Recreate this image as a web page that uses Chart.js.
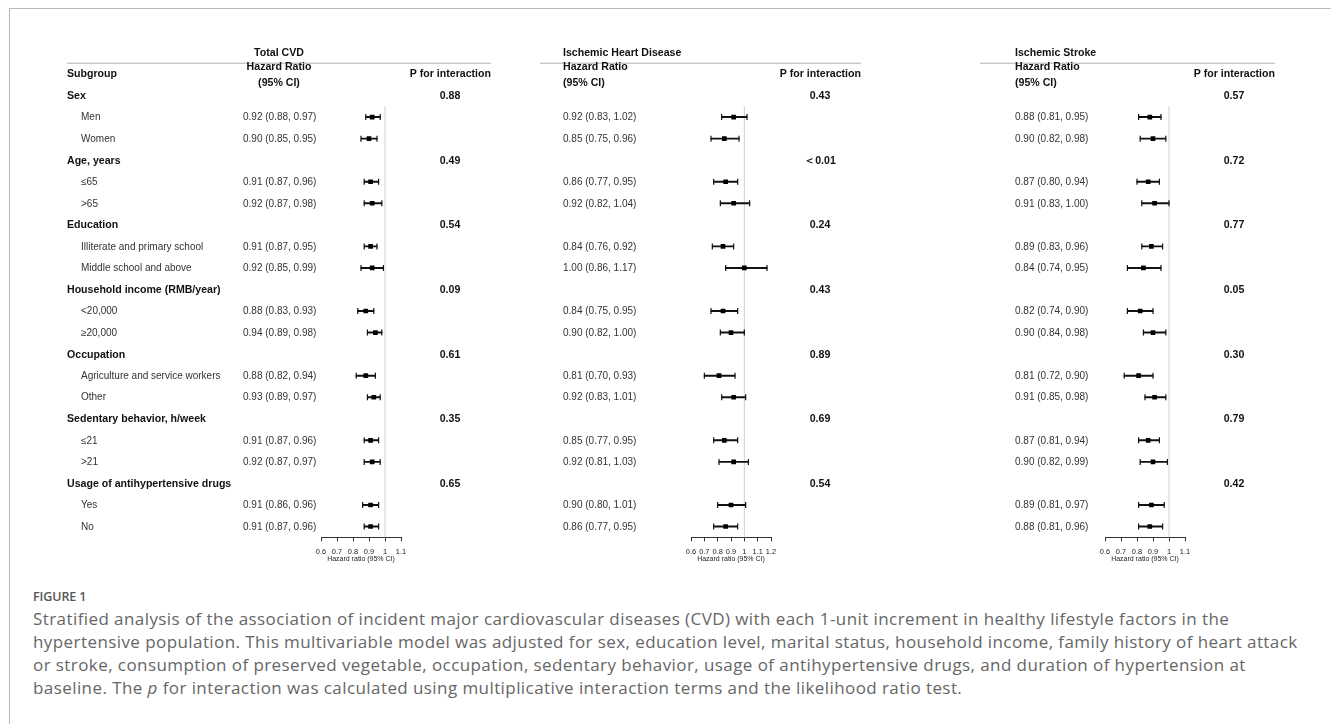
<!DOCTYPE html>
<html>
<head>
<meta charset="utf-8">
<script src="https://cdn.jsdelivr.net/npm/chart.js@4.4.0/dist/chart.umd.min.js"></script>
<style>
  body { margin: 0; background: #fff; width: 1331px; height: 724px; overflow: hidden; position: relative; }
  .frame { position: absolute; left: 9px; top: 8px; right: -2px; bottom: -2px; border-top: 1.5px solid #b8b8b8; border-left: 1.5px solid #b8b8b8; }
  canvas { position: absolute; top: 41px; }
  .fig-title { position: absolute; left: 33px; top: 589px; font: 600 12.5px/16px 'Open Sans', sans-serif; color: #555; letter-spacing: -0.1px; }
  .caption { position: absolute; left: 33px; top: 608px; font: 17px/22.9px 'Open Sans', sans-serif; letter-spacing: 0.42px; color: #666; white-space: nowrap; }
</style>
</head>
<body>
<div class="frame"></div>
<canvas id="cvd" width="440" height="530" style="left:60px"></canvas>
<canvas id="ihd" width="340" height="530" style="left:530px"></canvas>
<canvas id="stroke" width="320" height="530" style="left:970px"></canvas>
<div class="fig-title">FIGURE 1</div>
<div class="caption">Stratified analysis of the association of incident major cardiovascular diseases (CVD) with each 1-unit increment in healthy lifestyle factors in the<br>hypertensive population. This multivariable model was adjusted for sex, education level, marital status, household income, family history of heart attack<br>or stroke, consumption of preserved vegetable, occupation, sedentary behavior, usage of antihypertensive drugs, and duration of hypertension at<br>baseline. The <i>p</i> for interaction was calculated using multiplicative interaction terms and the likelihood ratio test.</div>
<script>
// subgroups
const groups = ['Sex', 'Age, years', 'Education', 'Household income (RMB/year)', 'Occupation', 'Sedentary behavior, h/week', 'Usage of antihypertensive drugs']
const levels = [['Men', 'Women'], ['≤65', '>65'], ['Illiterate and primary school', 'Middle school and above'], ['<20,000', '≥20,000'], ['Agriculture and service workers', 'Other'], ['≤21', '>21'], ['Yes', 'No']]

// Total CVD
const cvdHR = [0.92, 0.90, 0.91, 0.92, 0.91, 0.92, 0.88, 0.94, 0.88, 0.93, 0.91, 0.92, 0.91, 0.91]
const cvdLow = [0.88, 0.85, 0.87, 0.87, 0.87, 0.85, 0.83, 0.89, 0.82, 0.89, 0.87, 0.87, 0.86, 0.87]
const cvdHigh = [0.97, 0.95, 0.96, 0.98, 0.95, 0.99, 0.93, 0.98, 0.94, 0.97, 0.96, 0.97, 0.96, 0.96]
const cvdP = ['0.88', '0.49', '0.54', '0.09', '0.61', '0.35', '0.65']

// Ischemic heart disease
const ihdHR = [0.92, 0.85, 0.86, 0.92, 0.84, 1.00, 0.84, 0.90, 0.81, 0.92, 0.85, 0.92, 0.90, 0.86]
const ihdLow = [0.83, 0.75, 0.77, 0.82, 0.76, 0.86, 0.75, 0.82, 0.70, 0.83, 0.77, 0.81, 0.80, 0.77]
const ihdHigh = [1.02, 0.96, 0.95, 1.04, 0.92, 1.17, 0.95, 1.00, 0.93, 1.01, 0.95, 1.03, 1.01, 0.95]
const ihdP = ['0.43', '＜0.01', '0.24', '0.43', '0.89', '0.69', '0.54']

// Ischemic stroke
const isHR = [0.88, 0.90, 0.87, 0.91, 0.89, 0.84, 0.82, 0.90, 0.81, 0.91, 0.87, 0.90, 0.89, 0.88]
const isLow = [0.81, 0.82, 0.80, 0.83, 0.83, 0.74, 0.74, 0.84, 0.72, 0.85, 0.81, 0.82, 0.81, 0.81]
const isHigh = [0.95, 0.98, 0.94, 1.00, 0.96, 0.95, 0.90, 0.98, 0.90, 0.98, 0.94, 0.99, 0.97, 0.96]
const isP = ['0.57', '0.72', '0.77', '0.05', '0.30', '0.79', '0.42']

// x axis ticks
const ticksShort = [0.6, 0.7, 0.8, 0.9, 1, 1.1]
const ticksShortLabels = ['0.6', '0.7', '0.8', '0.9', '1', '1.1']
const ticksLong = [0.6, 0.7, 0.8, 0.9, 1, 1.1, 1.2]
const ticksLongLabels = ['0.6', '0.7', '0.8', '0.9', '1', '1.1', '1.2']

const FONT = "'Liberation Sans', Arial, sans-serif"
const BOLD = 'bold 10.6px ' + FONT
const REG = '10px ' + FONT

const txt = (ctx, s, x, y, font, color, align) => {
    ctx.font = font
    ctx.fillStyle = color
    ctx.textAlign = align
    ctx.textBaseline = 'middle'
    ctx.fillText(s, x, y + 0.5)
}

const fmt = v => v.toFixed(2)

const makePanel = (id, p) => {
    // each group takes a header row and two level rows
    const rows = p.hr.map((v, i) => Math.floor(i / 2) * 3 + 1 + i % 2)
    const L = p.left

    const forestText = {
        id: 'forestText',
        beforeDatasetsDraw(chart) {
            const { ctx, chartArea, scales } = chart
            const x1 = scales.x.getPixelForValue(1)
            ctx.save()
            ctx.strokeStyle = '#cfcfcf'
            ctx.lineWidth = 1
            ctx.beginPath()
            ctx.moveTo(x1, chartArea.top)
            ctx.lineTo(x1, chartArea.bottom)
            ctx.stroke()
            ctx.restore()
        },
        afterDraw(chart) {
            const { ctx, scales } = chart
            const y = r => scales.y.getPixelForValue(r)
            ctx.save()
            // header rule
            ctx.strokeStyle = '#b0b0b0'
            ctx.lineWidth = 1
            ctx.beginPath()
            ctx.moveTo(p.ruleFrom - L, y(-1.5))
            ctx.lineTo(p.pRight - L, y(-1.5))
            ctx.stroke()

            const hx = p.headAlign === 'center' ? p.valueX + 36 - L : p.valueX - L
            txt(ctx, p.title, hx, y(-2), BOLD, '#111', p.headAlign)
            txt(ctx, 'Hazard Ratio', hx, y(-1.33), BOLD, '#111', p.headAlign)
            txt(ctx, '(95% CI)', hx, y(-0.6), BOLD, '#111', p.headAlign)
            txt(ctx, 'P for interaction', p.pRight - L, y(-1), BOLD, '#111', 'right')
            if (p.showLabels) txt(ctx, 'Subgroup', p.labelX - L, y(-1), BOLD, '#111', 'left')

            groups.forEach((g, gi) => {
                if (p.showLabels) {
                    txt(ctx, g, p.labelX - L, y(gi * 3), BOLD, '#111', 'left')
                    levels[gi].forEach((lv, li) => txt(ctx, lv, p.labelX + 14 - L, y(gi * 3 + 1 + li), REG, '#333', 'left'))
                }
                txt(ctx, p.pvals[gi], p.pCenter - L, y(gi * 3), BOLD, '#111', 'center')
            })
            rows.forEach((r, i) => {
                txt(ctx, fmt(p.hr[i]) + ' (' + fmt(p.low[i]) + ', ' + fmt(p.high[i]) + ')', p.valueX - L, y(r), REG, '#333', 'left')
            })
            ctx.restore()
        }
    }

    new Chart(id, {
        type: 'scatter',
        data: {
            datasets: [{
                type: 'bar',
                indexAxis: 'y',
                data: rows.map((r, i) => ({ y: r, x: [p.low[i], p.high[i]] })),
                backgroundColor: '#111',
                barThickness: 1.3,
                borderWidth: 0,
                order: 3
            }, {
                data: rows.flatMap((r, i) => [{ x: p.low[i], y: r }, { x: p.high[i], y: r }]),
                pointStyle: 'line',
                pointRotation: 90,
                pointRadius: 3,
                pointBorderWidth: 1.2,
                pointBorderColor: '#111',
                order: 2
            }, {
                data: rows.map((r, i) => ({ x: p.hr[i], y: r })),
                pointStyle: 'rect',
                pointRadius: 3.3,
                pointBackgroundColor: '#000',
                pointBorderColor: '#000',
                pointBorderWidth: 0,
                order: 1
            }]
        },
        options: {
            responsive: false,
            animation: false,
            events: [],
            layout: { padding: { left: p.padLeft, right: p.padRight, top: 65.3, bottom: 5.7 } },
            plugins: { legend: { display: false }, tooltip: { enabled: false } },
            scales: {
                x: {
                    type: 'linear',
                    min: p.ticks[0],
                    max: p.ticks[p.ticks.length - 1],
                    offset: false,
                    beginAtZero: false,
                    afterBuildTicks: s => { s.ticks = p.ticks.map(v => ({ value: v })) },
                    afterFit: s => { s.height = 28 },
                    ticks: {
                        autoSkip: false,
                        maxRotation: 0,
                        padding: 6,
                        color: '#222',
                        font: { family: FONT, size: 7.4 },
                        callback: (v, i) => p.tickLabels[i]
                    },
                    grid: { display: true, drawOnChartArea: false, drawTicks: true, tickLength: 4, color: '#333', lineWidth: 1 },
                    border: { display: true, color: '#333', width: 1 },
                    title: { display: true, text: 'Hazard ratio (95% CI)', color: '#222', font: { family: FONT, size: 7 }, padding: { top: 0, bottom: 2 } }
                },
                y: {
                    type: 'linear',
                    reverse: true,
                    min: 0.5,
                    max: 20.5,
                    offset: false,
                    display: false,
                    grid: { offset: false }
                }
            }
        },
        plugins: [forestText]
    })
}

makePanel('cvd', {
    left: 60, padLeft: 261, padRight: 99, title: 'Total CVD', headAlign: 'center', showLabels: true,
    labelX: 67, valueX: 243, pCenter: 450, pRight: 491, ruleFrom: 67,
    hr: cvdHR, low: cvdLow, high: cvdHigh, pvals: cvdP, ticks: ticksShort, tickLabels: ticksShortLabels
})
makePanel('ihd', {
    left: 530, padLeft: 161, padRight: 99, title: 'Ischemic Heart Disease', headAlign: 'left', showLabels: false,
    labelX: 0, valueX: 563, pCenter: 820, pRight: 861, ruleFrom: 540,
    hr: ihdHR, low: ihdLow, high: ihdHigh, pvals: ihdP, ticks: ticksLong, tickLabels: ticksLongLabels
})
makePanel('stroke', {
    left: 970, padLeft: 135, padRight: 105, title: 'Ischemic Stroke', headAlign: 'left', showLabels: false,
    labelX: 0, valueX: 1015, pCenter: 1234, pRight: 1275, ruleFrom: 980,
    hr: isHR, low: isLow, high: isHigh, pvals: isP, ticks: ticksShort, tickLabels: ticksShortLabels
})
</script>
</body>
</html>
